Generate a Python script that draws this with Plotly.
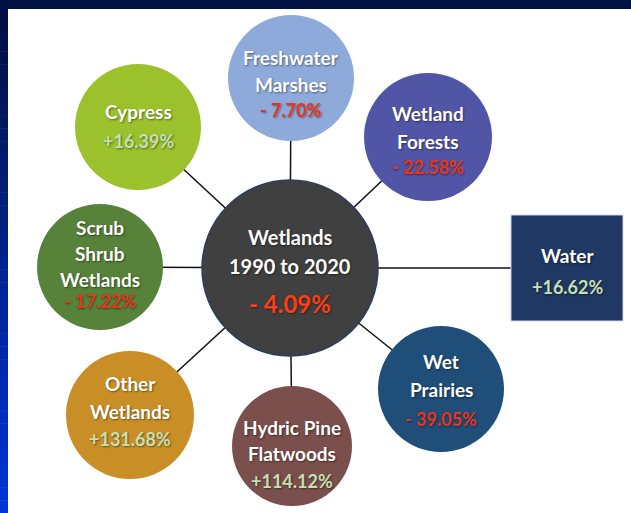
import plotly.graph_objects as go

# ---- data ----
center_lines = ["Wetlands", "1990 to 2020"]
center_change = "- 4.09%"
categories = [
    ["Freshwater", "Marshes"],
    ["Wetland", "Forests"],
    ["Water"],
    ["Wet", "Prairies"],
    ["Hydric Pine", "Flatwoods"],
    ["Other", "Wetlands"],
    ["Scrub", "Shrub", "Wetlands"],
    ["Cypress"],
]
changes = ["- 7.70%", "- 22.58%", "+16.62%", "- 39.05%", "+114.12%", "+131.68%", "- 17.22%", "+16.39%"]

# ---- layout (positions / styles) ----
W, H = 631, 513
CX, CY, CR = 290, 268, 88
node_pos = [(291, 78, 63), (428, 137, 64), (567, 268, 0), (441, 389, 63),
            (292, 446, 60), (130, 415, 64), (100, 267, 63), (138, 127, 63)]
node_shape = ["circle", "circle", "rect", "circle", "circle", "circle", "circle", "circle"]
water_box = (511, 215, 623, 321)
node_color = ["#8EAADB", "#5155A5", "#1F3864", "#1F4E79", "#7A4F4C", "#C98F26", "#56823A", "#9BC12C"]
text_ys = [[57, 84, 110], [113, 141, 167], [255, 287], [361, 389, 419],
           [427, 453, 481], [383, 411, 439], [227, 253, 279, 301], [111, 141]]
NEG = "#E8361E"
POS = "#C5E0B4"
FONT = "Lato"

shapes = []
# background frame
shapes.append(dict(type="rect", xref="x", yref="y", x0=0, x1=W, y0=0, y1=9,
                   fillcolor="#001246", line=dict(width=0), layer="below"))
n = 40
for i in range(n):
    t = i / (n - 1)
    g = int(16 + t * 36)
    b = int(64 + t * 150)
    y0 = i * H / n
    shapes.append(dict(type="rect", xref="x", yref="y", x0=0, x1=8, y0=y0, y1=y0 + H / n + 0.5,
                       fillcolor=f"rgb(0,{g},{b})", line=dict(width=0), layer="below"))

# connectors
for (x, y, r), s in zip(node_pos, node_shape):
    shapes.append(dict(type="line", xref="x", yref="y", x0=CX, y0=CY, x1=x, y1=y,
                       line=dict(color="#111111", width=1.5)))

# nodes
for (x, y, r), s, c in zip(node_pos, node_shape, node_color):
    if s == "rect":
        x0, y0, x1, y1 = water_box
        shapes.append(dict(type="rect", xref="x", yref="y", x0=x0, y0=y0, x1=x1, y1=y1,
                           fillcolor=c, line=dict(color="#C9D3E6", width=1)))
    else:
        shapes.append(dict(type="circle", xref="x", yref="y", x0=x - r, y0=y - r, x1=x + r, y1=y + r,
                           fillcolor=c, line=dict(color=c, width=0)))

shapes.append(dict(type="circle", xref="x", yref="y", x0=CX - CR, y0=CY - CR, x1=CX + CR, y1=CY + CR,
                   fillcolor="#404040", line=dict(color="#2E3D5C", width=1.5)))

shadow = "1px 1px 2px rgba(0,0,0,0.45)"
ann = []
for lines, ch, (x, y, r), ys in zip(categories, changes, node_pos, text_ys):
    for txt, ty in zip(lines, ys[:-1]):
        ann.append(dict(x=x, y=ty, xref="x", yref="y", text=txt, showarrow=False,
                        font=dict(family=FONT, size=19, color="white", weight="bold", shadow=shadow)))
    col = NEG if ch.startswith("-") else POS
    ann.append(dict(x=x, y=ys[-1], xref="x", yref="y", text=ch, showarrow=False,
                    font=dict(family=FONT, size=18, color=col, weight="bold", shadow=shadow)))

for txt, ty in zip(center_lines, [237, 266]):
    ann.append(dict(x=CX, y=ty, xref="x", yref="y", text=txt, showarrow=False,
                    font=dict(family=FONT, size=20, color="white", weight="bold", shadow=shadow)))
ann.append(dict(x=CX, y=303, xref="x", yref="y", text=center_change, showarrow=False,
                font=dict(family=FONT, size=24, color="#FF3D17", weight="bold", shadow=shadow)))

fig = go.Figure()
fig.add_trace(go.Scatter(x=[CX], y=[CY], mode="markers", marker=dict(size=1, opacity=0),
                         hoverinfo="skip", showlegend=False))
fig.update_layout(
    width=W, height=H, margin=dict(l=0, r=0, t=0, b=0),
    paper_bgcolor="white", plot_bgcolor="white",
    xaxis=dict(range=[0, W], visible=False, fixedrange=True),
    yaxis=dict(range=[H, 0], visible=False, fixedrange=True),
    shapes=shapes, annotations=ann, showlegend=False,
)
fig.write_html("out.html")
